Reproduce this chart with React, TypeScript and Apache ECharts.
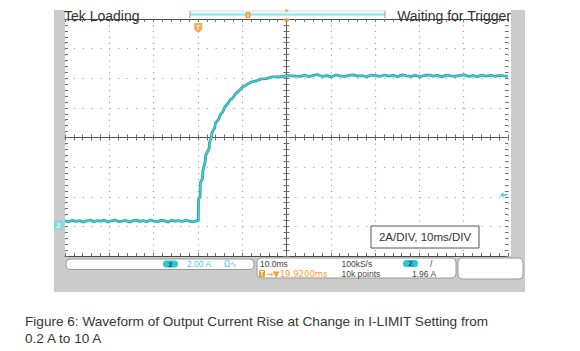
import React, { useEffect, useRef } from "react";
import * as echarts from "echarts";

// ---- waveform data ----
const preTriggerTimeMs = [-30.08, -29.2, -28.4, -27.6, -26.8, -26.0, -25.2, -24.4, -23.6, -22.8, -22.0, -21.2, -20.4, -19.6, -18.8, -18.0, -17.2, -16.4, -15.6, -14.8, -14.0, -13.2, -12.4, -11.6, -10.8, -10.0, -9.2, -8.4, -7.6, -6.8, -6.0, -5.2, -4.4, -3.6, -2.8, -2.0, -1.2, -0.4];
const preTriggerCurrentA = [0.22, 0.15, 0.25, 0.18, 0.23, 0.13, 0.21, 0.27, 0.16, 0.23, 0.19, 0.26, 0.14, 0.22, 0.27, 0.17, 0.2, 0.24, 0.13, 0.21, 0.26, 0.18, 0.23, 0.15, 0.27, 0.2, 0.16, 0.24, 0.22, 0.13, 0.25, 0.19, 0.23, 0.17, 0.26, 0.2, 0.15, 0.22];

const riseTimeMs = [0.0, 0.05, 0.4, 0.48, 0.95, 1.05, 1.55, 1.65, 2.45, 2.55, 3.0, 3.1, 3.75, 3.85, 4.6, 5.0, 5.5, 6.0, 6.6, 7.2, 7.8, 8.5, 9.3, 10.0, 10.8, 11.9, 13.1, 14.2, 15.3, 16.8, 18.3, 20.2, 22.1];
const riseCurrentA = [0.2, 1.7, 1.8, 2.8, 3.05, 3.6, 4.2, 4.6, 5.1, 5.5, 5.85, 6.2, 6.5, 6.8, 7.08, 7.38, 7.55, 7.9, 8.1, 8.38, 8.52, 8.82, 9.02, 9.25, 9.38, 9.58, 9.66, 9.8, 9.82, 9.93, 9.94, 10.02, 9.98];

const settledTimeMs = [23, 24, 25, 26, 27, 28, 29, 30, 31, 32, 33, 34, 35, 36, 37, 38, 39, 40, 41, 42, 43, 44, 45, 46, 47, 48, 49, 50, 51, 52, 53, 54, 55, 56, 57, 58, 59, 60, 61, 62, 63, 64, 65, 66, 67, 68, 69, 69.92];
const settledCurrentA = [9.97, 10.05, 9.95, 10.03, 10.08, 9.96, 10.02, 9.93, 10.06, 10.0, 9.95, 10.04, 10.07, 9.98, 10.02, 9.94, 10.05, 10.01, 9.96, 10.06, 9.99, 10.03, 9.94, 10.07, 10.0, 9.97, 10.04, 9.95, 10.02, 10.06, 9.98, 10.03, 9.93, 10.05, 10.0, 9.96, 10.04, 10.07, 9.97, 10.01, 9.95, 10.05, 9.99, 10.03, 9.96, 10.04, 10.0, 9.97];

// ---- scope settings ----
const timePerDivMs = 10;
const ampsPerDiv = 2;
const horizontalDivs = 10;
const verticalDivs = 8;
const minorPerDiv = 5;
const triggerDelayMs = 19.92;
const triggerLevelA = 1.96;
const bottomEdgeA = -2.16;

// ---- texts ----
const statusLeft = "Tek Loading";
const statusRight = "Waiting for Trigger";
const scaleNote = "2A/DIV, 10ms/DIV";
const channelLabel = "2";
const channelScale = "2.00 A";
const channelCoupling = "Ω∿";
const timeScale = "10.0ms";
const delayText = "→▼19.9200ms";
const sampleRate = "100kS/s";
const recordLength = "10k points";
const triggerSlope = "/";
const triggerLevelText = "1.96 A";
const captionLines = [
  "Figure 6: Waveform of Output Current Rise at Change in I-LIMIT Setting from",
  "0.2 A to 10 A",
];

const FONT = "Liberation Sans, Arial, Helvetica, sans-serif";

export default function App() {
  const ref = useRef<HTMLDivElement>(null);

  useEffect(() => {
    if (!ref.current) return;
    const chart = echarts.init(ref.current, null, { renderer: "svg" });

    const gridLeft = 65;
    const gridTop = 19;
    const gridW = 443;
    const gridH = 237;

    const xMin = triggerDelayMs - (horizontalDivs / 2) * timePerDivMs;
    const xMax = triggerDelayMs + (horizontalDivs / 2) * timePerDivMs;
    const yMin = bottomEdgeA;
    const yMax = bottomEdgeA + verticalDivs * ampsPerDiv;

    const trace: number[][] = [];
    preTriggerTimeMs.forEach((t, i) => trace.push([t, preTriggerCurrentA[i]]));
    riseTimeMs.forEach((t, i) => trace.push([t, riseCurrentA[i]]));
    settledTimeMs.forEach((t, i) => trace.push([t, settledCurrentA[i]]));

    const tickColor = "#707070";
    const frameColor = "#4a4a4a";
    const dotColor = "#a6a6a6";
    const hDotStep = gridW / horizontalDivs / minorPerDiv;
    const vDotStep = gridH / verticalDivs / minorPerDiv;

    const divAxisX = (extra: any) => ({
      type: "value",
      min: 0,
      max: horizontalDivs,
      interval: 1,
      axisLabel: { show: false },
      splitLine: { show: false },
      axisLine: { show: true, onZero: false, lineStyle: { color: frameColor, width: 1 } },
      axisTick: { show: true, inside: true, length: 3, lineStyle: { color: tickColor } },
      minorTick: { show: true, splitNumber: minorPerDiv, length: 3, lineStyle: { color: tickColor } },
      ...extra,
    });
    const divAxisY = (extra: any) => ({
      type: "value",
      min: -verticalDivs / 2,
      max: verticalDivs / 2,
      interval: 1,
      axisLabel: { show: false },
      splitLine: { show: false },
      axisLine: { show: true, onZero: false, lineStyle: { color: frameColor, width: 1 } },
      axisTick: { show: true, inside: true, length: 3, lineStyle: { color: tickColor } },
      minorTick: { show: true, splitNumber: minorPerDiv, length: 3, lineStyle: { color: tickColor } },
      ...extra,
    });

    const txt = (x: number, y: number, text: string, o: any = {}) => ({
      type: "text",
      x,
      y,
      z: o.z ?? 20,
      silent: true,
      style: {
        text,
        fill: o.fill ?? "#444",
        fontSize: o.size ?? 8.5,
        fontFamily: o.family ?? FONT,
        fontWeight: o.weight ?? "normal",
        align: o.align ?? "left",
        verticalAlign: "middle",
        textAlign: o.align ?? "left",
        textVerticalAlign: "middle",
      },
    });
    const box = (x: number, y: number, w: number, h: number, o: any = {}) => ({
      type: "rect",
      z: o.z ?? 15,
      silent: true,
      shape: { x, y, width: w, height: h, r: o.r ?? 0 },
      style: { fill: o.fill ?? "#fff", stroke: o.stroke ?? null, lineWidth: o.lw ?? 1 },
    });
    const seg = (x1: number, y1: number, x2: number, y2: number, stroke: string, lw: number, z = 15) => ({
      type: "line",
      z,
      silent: true,
      shape: { x1, y1, x2, y2 },
      style: { stroke, lineWidth: lw },
    });

    const orange = "#f39a2b";
    const cyan = "#2cc6d2";
    const lightCyan = "#58c9d3";

    const option: any = {
      animation: false,
      backgroundColor: "#ffffff",
      grid: { left: gridLeft, top: gridTop, width: gridW, height: gridH, containLabel: false },
      xAxis: [
        { type: "value", min: xMin, max: xMax, show: false, axisLine: { onZero: false } },
        divAxisX({
          position: "bottom",
          splitLine: { show: true, lineStyle: { color: dotColor, width: 1.2, type: [1.2, vDotStep - 1.2] } },
        }),
        divAxisX({ position: "top" }),
        divAxisX({ position: "bottom", offset: -gridH / 2, axisLine: { show: true, onZero: false, lineStyle: { color: "#555", width: 1 } } }),
        divAxisX({ position: "bottom", offset: -gridH / 2, axisTick: { show: true, inside: false, length: 3, lineStyle: { color: tickColor } }, axisLine: { show: false, onZero: false } }),
      ],
      yAxis: [
        { type: "value", min: yMin, max: yMax, show: false, axisLine: { onZero: false } },
        divAxisY({
          position: "left",
          axisLine: { show: false, onZero: false },
          splitLine: { show: true, lineStyle: { color: dotColor, width: 1.2, type: [1.2, hDotStep - 1.2] } },
        }),
        divAxisY({ position: "right", axisLine: { show: false, onZero: false } }),
        divAxisY({ position: "left", offset: -gridW / 2, axisLine: { show: true, onZero: false, lineStyle: { color: "#555", width: 1 } } }),
        divAxisY({ position: "left", offset: -gridW / 2, axisTick: { show: true, inside: false, length: 3, lineStyle: { color: tickColor } }, axisLine: { show: false, onZero: false } }),
      ],
      series: [
        {
          type: "line",
          xAxisIndex: 0,
          yAxisIndex: 0,
          data: trace,
          symbol: "none",
          silent: true,
          z: 3,
          lineStyle: { color: "#27a0a0", width: 2.8 },
        },
        {
          type: "line",
          xAxisIndex: 0,
          yAxisIndex: 0,
          data: trace,
          symbol: "none",
          silent: true,
          z: 4,
          lineStyle: { color: "#4fd4d4", width: 1.1 },
        },
        {
          type: "scatter",
          xAxisIndex: 0,
          yAxisIndex: 0,
          clip: false,
          silent: true,
          z: 6,
          data: [
            {
              value: [0, yMax],
              symbol: "path://M0,0 L10,0 L10,8 L5,12 L0,8 Z",
              symbolSize: [8, 10],
              symbolOffset: [0, 9],
              itemStyle: { color: orange },
              label: { show: true, position: "inside", formatter: "T", color: "#fff", fontSize: 7, fontWeight: "bold", fontFamily: FONT, offset: [0, -1] },
            },
            {
              value: [triggerDelayMs, yMax],
              symbol: "path://M0,0 L10,0 L10,2 L5,7 L0,2 Z",
              symbolSize: [6, 5],
              symbolOffset: [0, 2],
              itemStyle: { color: orange },
            },
            {
              value: [triggerDelayMs, yMax],
              symbol: "path://M0,0 L10,0 L5,6 Z",
              symbolSize: [5, 3],
              symbolOffset: [0, -8],
              itemStyle: { color: orange },
            },
            {
              value: [xMax, triggerLevelA],
              symbol: "path://M0,5 L5,0 L5,3.5 L10,3.5 L10,6.5 L5,6.5 L5,10 Z",
              symbolSize: [7, 6],
              symbolOffset: [-4.5, 0],
              itemStyle: { color: cyan },
            },
            {
              value: [xMin, 0],
              symbol: "path://M0,0 L7,0 L10,5 L7,10 L0,10 Z",
              symbolSize: [11, 9],
              symbolOffset: [-5.5, 1],
              itemStyle: { color: "#6ddde4" },
              label: { show: true, position: "inside", formatter: channelLabel, color: "#ffffff", fontSize: 8, fontWeight: "bold", fontFamily: FONT, offset: [-1, 0] },
            },
          ],
        },
      ],
      graphic: {
        elements: [
          // scope screen
          box(54, 10, 471, 282, { fill: "#cbcbcb", z: -30 }),
          box(65, 10, 446, 246, { fill: "#ffffff", z: -29 }),
          // record view bar
          seg(190, 11, 385, 11, "#d8d8d8", 1, 5),
          seg(190, 14.5, 385, 14.5, "#8ceeee", 2.5, 5),
          seg(190, 11, 190, 18, "#9a9a9a", 1, 5),
          seg(385, 11, 385, 18, "#9a9a9a", 1, 5),
          box(245.5, 12, 5, 6, { fill: orange, r: 1, z: 6 }),
          seg(248, 13, 248, 17, "#ffffff", 1, 7),
          // status texts
          txt(64, 16, statusLeft, { size: 14, fill: "#333" }),
          txt(511, 16, statusRight, { size: 14, fill: "#333", align: "right" }),
          // scale note box
          box(371, 226, 108, 22, { fill: "#fff", stroke: "#555", lw: 1, z: 10 }),
          txt(425, 237, scaleNote, { size: 11.5, fill: "#333", align: "center", z: 11 }),
          // bottom readout boxes
          box(66, 259, 188, 10.5, { fill: "#fff", stroke: "#9a9a9a", r: 4 }),
          box(257, 258, 199, 20, { fill: "#fff", stroke: "#9a9a9a", r: 4 }),
          box(458, 258, 65, 21, { fill: "#fff", stroke: "#9a9a9a", r: 4 }),
          // channel readout
          box(163, 260.5, 15, 7, { fill: cyan, r: 3.5, z: 16 }),
          txt(170.5, 264, channelLabel, { size: 7.5, weight: "bold", fill: "#124f55", align: "center" }),
          txt(187, 264, channelScale, { size: 8.5, fill: lightCyan }),
          txt(224, 264, channelCoupling, { size: 8, fill: lightCyan, family: "DejaVu Sans, sans-serif" }),
          // timebase readout
          txt(260, 264, timeScale),
          box(259, 270, 6, 7, { fill: orange, r: 1, z: 16 }),
          txt(262, 273.5, "T", { size: 6.5, weight: "bold", fill: "#fff", align: "center" }),
          txt(266, 274, delayText, { size: 8.5, fill: "#f5a037", family: "DejaVu Sans, sans-serif" }),
          txt(341.5, 264, sampleRate),
          txt(341.5, 274, recordLength),
          box(403, 260, 15, 7, { fill: cyan, r: 3.5, z: 16 }),
          txt(410.5, 263.5, channelLabel, { size: 7.5, weight: "bold", fill: "#124f55", align: "center" }),
          txt(430, 263.5, triggerSlope),
          txt(412, 274, triggerLevelText),
          // caption
          txt(25, 321, captionLines[0], { size: 13.6, fill: "#363636" }),
          txt(25, 338, captionLines[1], { size: 13.6, fill: "#363636" }),
        ],
      },
    };

    chart.setOption(option);
    return () => chart.dispose();
  }, []);

  return (
    <div
      ref={ref}
      style={{ position: "absolute", left: 0, top: 0, width: 580, height: 351 }}
    />
  );
}
